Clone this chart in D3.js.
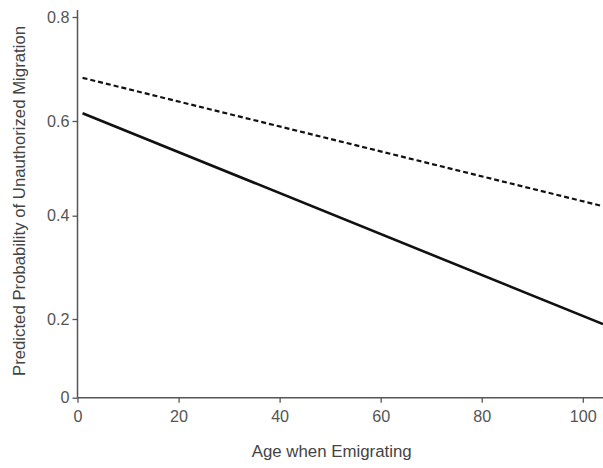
<!DOCTYPE html>
<html><head><meta charset="utf-8">
<script src="https://cdn.jsdelivr.net/npm/d3@7"></script>
<style>body{margin:0;background:#fff}svg{display:block}text{font-family:"Liberation Sans",Arial,sans-serif}</style>
</head><body>
<svg id="c" width="603" height="468"></svg>
<script>
const xTicks = [0, 20, 40, 60, 80, 100];
const yTicks = [0, 0.2, 0.4, 0.6, 0.8];
const yTickLabels = ["0", "0.2", "0.4", "0.6", "0.8"];
const ages = [1, 104];
const solidSeries = [0.615, 0.187];
const dashedSeries = [0.683, 0.42];

const svg = d3.select("#c");
const x = d3.scaleLinear().domain([0, 104]).range([77.5, 603]);
const y = d3.scaleLinear().domain(yTicks).range([397.7, 319, 215.7, 121, 17]);

function fitSize(sel, base, target) {
  sel.style("font-size", base + "px");
  const w = sel.node().getComputedTextLength();
  sel.style("font-size", (base * target / w) + "px");
  return base * target / w;
}

const axisColor = "#555";
const gx = svg.append("g").attr("transform", `translate(0,${y(0)})`)
  .call(d3.axisBottom(x).tickValues(xTicks).tickSize(5).tickPadding(6).tickFormat(d3.format("d")));
const gy = svg.append("g").attr("transform", `translate(${x(0)},0)`)
  .call(d3.axisLeft(y).tickValues(yTicks).tickSize(5).tickPadding(3).tickFormat((d,i)=>yTickLabels[i]));
[gx, gy].forEach(g => {
  g.attr("font-family", null);
  g.select(".domain").attr("stroke", axisColor).attr("stroke-width", 1.5);
  g.selectAll(".tick line").attr("stroke", axisColor).attr("stroke-width", 1.3);
  g.selectAll(".tick text").attr("fill", "#555");
});
const tick40 = gx.selectAll(".tick text").filter(d => d === 40);
const tickSize = fitSize(tick40, 15, 18);
svg.selectAll(".tick text").style("font-size", tickSize + "px");
gx.selectAll(".tick text").attr("dy", null).attr("y", 24);
gx.select(".domain").attr("d", `M${x(0)},0H603`);
gy.select(".domain").attr("d", `M0,${y(0)}V10`);

const line = d3.line().x((d,i)=>x(ages[i])).y(d=>y(d));
svg.append("path").datum(dashedSeries).attr("d", line)
  .attr("fill", "none").attr("stroke", "#111").attr("stroke-width", 2.2).attr("stroke-dasharray", "5,3");
svg.append("path").datum(solidSeries).attr("d", line)
  .attr("fill", "none").attr("stroke", "#111").attr("stroke-width", 2.6);

const xt = svg.append("text").attr("x", 331.7).attr("y", 457).attr("text-anchor", "middle")
  .attr("fill", "#444").text("Age when Emigrating");
fitSize(xt, 17, 160);
const yt = svg.append("text").attr("transform", `translate(24.5,201) rotate(-90)`).attr("text-anchor", "middle")
  .attr("fill", "#444").text("Predicted Probability of Unauthorized Migration");
fitSize(yt, 14.7, 350);
</script>
</body></html>
